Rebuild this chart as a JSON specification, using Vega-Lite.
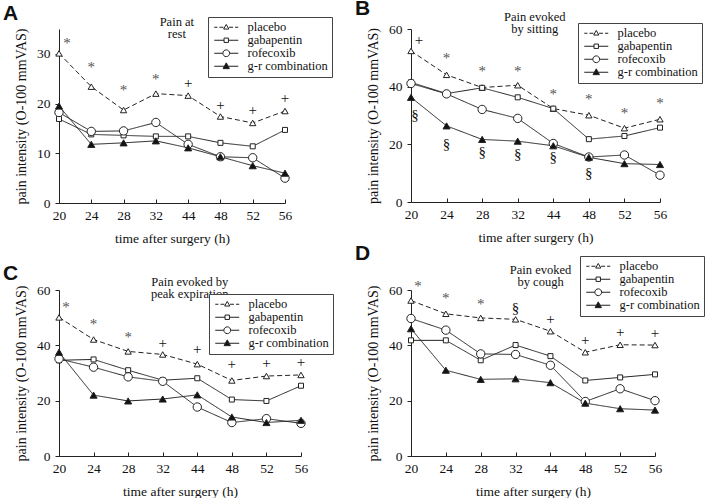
{
 "$schema": "https://vega.github.io/schema/vega-lite/v6.json",
 "background": "white",
 "padding": {"left": 3, "top": -3, "right": 3, "bottom": 0},
 "config": {
  "font": "Liberation Serif",
  "view": {"stroke": null},
  "axis": {"grid": false, "domainColor": "#222", "tickColor": "#222", "labelColor": "#111", "titleColor": "#111", "labelFont": "Liberation Serif", "titleFont": "Liberation Serif", "labelFontSize": 13.5, "titleFontSize": 13.5, "titleFontWeight": "normal"},
  "axisY": {"titleFontSize": 14},
  "legend": {"title": null, "strokeColor": "#444", "padding": 4, "labelFont": "Liberation Serif", "labelFontSize": 12.5, "labelColor": "#111", "symbolSize": 64, "symbolOffset": 8, "labelOffset": 15, "rowPadding": -1.5, "symbolStrokeWidth": 1, "symbolStrokeColor": "#222", "fillColor": "white"}
 },
 "datasets": {
  "lines": [
   {"panel":"A","series":"placebo","time":"20","value":30.1},{"panel":"A","series":"placebo","time":"24","value":23.4},{"panel":"A","series":"placebo","time":"28","value":18.7},{"panel":"A","series":"placebo","time":"32","value":22.0},{"panel":"A","series":"placebo","time":"44","value":21.6},{"panel":"A","series":"placebo","time":"48","value":17.4},{"panel":"A","series":"placebo","time":"52","value":16.1},{"panel":"A","series":"placebo","time":"56","value":18.5},
   {"panel":"A","series":"gabapentin","time":"20","value":16.9},{"panel":"A","series":"gabapentin","time":"24","value":13.8},{"panel":"A","series":"gabapentin","time":"28","value":13.6},{"panel":"A","series":"gabapentin","time":"32","value":13.4},{"panel":"A","series":"gabapentin","time":"44","value":13.4},{"panel":"A","series":"gabapentin","time":"48","value":12.1},{"panel":"A","series":"gabapentin","time":"52","value":11.4},{"panel":"A","series":"gabapentin","time":"56","value":14.7},
   {"panel":"A","series":"rofecoxib","time":"20","value":18.2},{"panel":"A","series":"rofecoxib","time":"24","value":14.4},{"panel":"A","series":"rofecoxib","time":"28","value":14.5},{"panel":"A","series":"rofecoxib","time":"32","value":16.2},{"panel":"A","series":"rofecoxib","time":"44","value":11.8},{"panel":"A","series":"rofecoxib","time":"48","value":9.3},{"panel":"A","series":"rofecoxib","time":"52","value":9.1},{"panel":"A","series":"rofecoxib","time":"56","value":5.0},
   {"panel":"A","series":"g-r combination","time":"20","value":19.5},{"panel":"A","series":"g-r combination","time":"24","value":11.8},{"panel":"A","series":"g-r combination","time":"28","value":12.1},{"panel":"A","series":"g-r combination","time":"32","value":12.5},{"panel":"A","series":"g-r combination","time":"44","value":11.1},{"panel":"A","series":"g-r combination","time":"48","value":9.3},{"panel":"A","series":"g-r combination","time":"52","value":7.5},{"panel":"A","series":"g-r combination","time":"56","value":6.0},
   {"panel":"B","series":"placebo","time":"20","value":52.4},{"panel":"B","series":"placebo","time":"24","value":44.1},{"panel":"B","series":"placebo","time":"28","value":39.7},{"panel":"B","series":"placebo","time":"32","value":40.5},{"panel":"B","series":"placebo","time":"44","value":32.4},{"panel":"B","series":"placebo","time":"48","value":30.1},{"panel":"B","series":"placebo","time":"52","value":25.6},{"panel":"B","series":"placebo","time":"56","value":28.7},
   {"panel":"B","series":"gabapentin","time":"20","value":41.5},{"panel":"B","series":"gabapentin","time":"24","value":37.6},{"panel":"B","series":"gabapentin","time":"28","value":39.6},{"panel":"B","series":"gabapentin","time":"32","value":36.3},{"panel":"B","series":"gabapentin","time":"44","value":32.4},{"panel":"B","series":"gabapentin","time":"48","value":21.8},{"panel":"B","series":"gabapentin","time":"52","value":22.9},{"panel":"B","series":"gabapentin","time":"56","value":25.8},
   {"panel":"B","series":"rofecoxib","time":"20","value":41.1},{"panel":"B","series":"rofecoxib","time":"24","value":37.5},{"panel":"B","series":"rofecoxib","time":"28","value":32.1},{"panel":"B","series":"rofecoxib","time":"32","value":29.0},{"panel":"B","series":"rofecoxib","time":"44","value":20.3},{"panel":"B","series":"rofecoxib","time":"48","value":15.6},{"panel":"B","series":"rofecoxib","time":"52","value":16.3},{"panel":"B","series":"rofecoxib","time":"56","value":9.3},
   {"panel":"B","series":"g-r combination","time":"20","value":36.3},{"panel":"B","series":"g-r combination","time":"24","value":26.4},{"panel":"B","series":"g-r combination","time":"28","value":21.7},{"panel":"B","series":"g-r combination","time":"32","value":21.1},{"panel":"B","series":"g-r combination","time":"44","value":19.5},{"panel":"B","series":"g-r combination","time":"48","value":15.5},{"panel":"B","series":"g-r combination","time":"52","value":13.3},{"panel":"B","series":"g-r combination","time":"56","value":13.0},
   {"panel":"C","series":"placebo","time":"20","value":50.1},{"panel":"C","series":"placebo","time":"24","value":42.1},{"panel":"C","series":"placebo","time":"28","value":37.8},{"panel":"C","series":"placebo","time":"32","value":36.7},{"panel":"C","series":"placebo","time":"44","value":33.2},{"panel":"C","series":"placebo","time":"48","value":27.3},{"panel":"C","series":"placebo","time":"52","value":28.9},{"panel":"C","series":"placebo","time":"56","value":29.3},
   {"panel":"C","series":"gabapentin","time":"20","value":34.6},{"panel":"C","series":"gabapentin","time":"24","value":34.9},{"panel":"C","series":"gabapentin","time":"28","value":31.0},{"panel":"C","series":"gabapentin","time":"32","value":27.4},{"panel":"C","series":"gabapentin","time":"44","value":28.1},{"panel":"C","series":"gabapentin","time":"48","value":20.4},{"panel":"C","series":"gabapentin","time":"52","value":19.9},{"panel":"C","series":"gabapentin","time":"56","value":25.4},
   {"panel":"C","series":"rofecoxib","time":"20","value":35.1},{"panel":"C","series":"rofecoxib","time":"24","value":32.1},{"panel":"C","series":"rofecoxib","time":"28","value":28.6},{"panel":"C","series":"rofecoxib","time":"32","value":27.0},{"panel":"C","series":"rofecoxib","time":"44","value":17.7},{"panel":"C","series":"rofecoxib","time":"48","value":12.1},{"panel":"C","series":"rofecoxib","time":"52","value":13.5},{"panel":"C","series":"rofecoxib","time":"56","value":11.8},
   {"panel":"C","series":"g-r combination","time":"20","value":37.5},{"panel":"C","series":"g-r combination","time":"24","value":22.0},{"panel":"C","series":"g-r combination","time":"28","value":19.9},{"panel":"C","series":"g-r combination","time":"32","value":20.6},{"panel":"C","series":"g-r combination","time":"44","value":22.1},{"panel":"C","series":"g-r combination","time":"48","value":14.1},{"panel":"C","series":"g-r combination","time":"52","value":12.1},{"panel":"C","series":"g-r combination","time":"56","value":12.9},
   {"panel":"D","series":"placebo","time":"20","value":56.2},{"panel":"D","series":"placebo","time":"24","value":51.4},{"panel":"D","series":"placebo","time":"28","value":49.9},{"panel":"D","series":"placebo","time":"32","value":49.4},{"panel":"D","series":"placebo","time":"44","value":45.1},{"panel":"D","series":"placebo","time":"48","value":37.5},{"panel":"D","series":"placebo","time":"52","value":40.2},{"panel":"D","series":"placebo","time":"56","value":40.1},
   {"panel":"D","series":"gabapentin","time":"20","value":41.8},{"panel":"D","series":"gabapentin","time":"24","value":41.8},{"panel":"D","series":"gabapentin","time":"28","value":34.6},{"panel":"D","series":"gabapentin","time":"32","value":40.1},{"panel":"D","series":"gabapentin","time":"44","value":36.1},{"panel":"D","series":"gabapentin","time":"48","value":27.3},{"panel":"D","series":"gabapentin","time":"52","value":28.4},{"panel":"D","series":"gabapentin","time":"56","value":29.5},
   {"panel":"D","series":"rofecoxib","time":"20","value":49.7},{"panel":"D","series":"rofecoxib","time":"24","value":45.5},{"panel":"D","series":"rofecoxib","time":"28","value":36.9},{"panel":"D","series":"rofecoxib","time":"32","value":36.7},{"panel":"D","series":"rofecoxib","time":"44","value":32.8},{"panel":"D","series":"rofecoxib","time":"48","value":19.7},{"panel":"D","series":"rofecoxib","time":"52","value":24.3},{"panel":"D","series":"rofecoxib","time":"56","value":20.0},
   {"panel":"D","series":"g-r combination","time":"20","value":46.0},{"panel":"D","series":"g-r combination","time":"24","value":31.0},{"panel":"D","series":"g-r combination","time":"28","value":27.7},{"panel":"D","series":"g-r combination","time":"32","value":27.9},{"panel":"D","series":"g-r combination","time":"44","value":26.5},{"panel":"D","series":"g-r combination","time":"48","value":19.1},{"panel":"D","series":"g-r combination","time":"52","value":17.1},{"panel":"D","series":"g-r combination","time":"56","value":16.6}
  ],
  "ann": [
   {"panel":"A","time":"20","sym":"*","value":32.1},{"panel":"A","time":"24","sym":"*","value":27.4},{"panel":"A","time":"28","sym":"*","value":22.7},{"panel":"A","time":"32","sym":"*","value":24.9},{"panel":"A","time":"44","sym":"+","value":24.2},{"panel":"A","time":"48","sym":"+","value":19.8},{"panel":"A","time":"52","sym":"+","value":18.7},{"panel":"A","time":"56","sym":"+","value":21.2},
   {"panel":"B","time":"20","sym":"+","value":56.2},{"panel":"B","time":"24","sym":"*","value":50.0},{"panel":"B","time":"28","sym":"*","value":45.4},{"panel":"B","time":"32","sym":"*","value":45.4},{"panel":"B","time":"44","sym":"*","value":37.3},{"panel":"B","time":"48","sym":"*","value":35.6},{"panel":"B","time":"52","sym":"*","value":30.7},{"panel":"B","time":"56","sym":"*","value":34.5},
   {"panel":"B","time":"20","sym":"§","value":30.3},{"panel":"B","time":"24","sym":"§","value":20.0},{"panel":"B","time":"28","sym":"§","value":17.4},{"panel":"B","time":"32","sym":"§","value":16.6},{"panel":"B","time":"44","sym":"§","value":15.6},{"panel":"B","time":"48","sym":"§","value":10.1},
   {"panel":"C","time":"20","sym":"*","value":53.7},{"panel":"C","time":"24","sym":"*","value":47.7},{"panel":"C","time":"28","sym":"*","value":42.9},{"panel":"C","time":"32","sym":"+","value":40.8},{"panel":"C","time":"44","sym":"+","value":38.5},{"panel":"C","time":"48","sym":"+","value":33.1},{"panel":"C","time":"52","sym":"+","value":33.7},{"panel":"C","time":"56","sym":"+","value":33.8},
   {"panel":"D","time":"20","sym":"*","value":61.6},{"panel":"D","time":"24","sym":"*","value":57.0},{"panel":"D","time":"28","sym":"*","value":54.9},{"panel":"D","time":"32","sym":"§","value":53.6},{"panel":"D","time":"44","sym":"+","value":49.4},{"panel":"D","time":"48","sym":"+","value":41.8},{"panel":"D","time":"52","sym":"+","value":44.9},{"panel":"D","time":"56","sym":"+","value":44.3}
  ]
 },
 "columns": 2,
 "spacing": {"row": 87, "column": 110},
 "bounds": "flush",
 "resolve": {"scale": {"x": "independent", "y": "independent", "shape": "independent", "fill": "independent", "stroke": "independent"}, "legend": {"shape": "independent", "fill": "independent", "stroke": "independent"}, "axis": {"x": "independent", "y": "independent"}},
 "concat": [
    {
     "width": 226, "height": 174,
     "title": {"text": "A", "anchor": "start", "frame": "group", "dx": -56, "dy": 14, "offset": 6, "font": "Liberation Sans", "fontSize": 21, "fontWeight": "bold", "color": "#111"},
     "layer": [
      {"data": {"name": "lines"}, "transform": [{"filter": "datum.panel === 'A'"}],
       "mark": {"type": "line", "strokeWidth": 1, "color": "#222"},
       "encoding": {
        "x": {"field": "time", "type": "ordinal", "scale": {"type": "point", "padding": 0}, "axis": {"title": "time after surgery (h)", "labelAngle": 0, "tickSize": -4, "labelPadding": 9, "titlePadding": 10}},
        "y": {"field": "value", "type": "quantitative", "scale": {"domain": [0, 35], "nice": false}, "axis": {"values": [0,5,10,15,20,25,30,35], "title": "pain intensity (O-100 mmVAS)", "tickSize": 4, "labelPadding": 5, "titlePadding": 8}},
        "detail": {"field": "series"},
        "strokeDash": {"condition": {"test": "datum.series === 'placebo'", "value": [5,3]}, "value": [1,0]}
       }},
      {"data": {"name": "lines"}, "transform": [{"filter": "datum.panel === 'A'"}],
       "mark": {"type": "point", "filled": true, "stroke": "#222", "strokeWidth": 1, "opacity": 1},
       "encoding": {
        "x": {"field": "time", "type": "ordinal"},
        "y": {"field": "value", "type": "quantitative"},
        "shape": {"condition": [{"test": "datum.series === 'gabapentin'", "value": "square"}, {"test": "datum.series === 'rofecoxib'", "value": "circle"}], "value": "triangle-up"},
        "fill": {"condition": {"test": "datum.series === 'g-r combination'", "value": "#111"}, "value": "white"},
        "size": {"condition": [{"test": "datum.series === 'rofecoxib'", "value": 70}, {"test": "datum.series === 'g-r combination'", "value": 50}, {"test": "datum.series === 'gabapentin'", "value": 25}], "value": 40}
       }},
      {"data": {"name": "lines"}, "transform": [{"filter": "false"}],
       "mark": {"type": "point", "filled": true, "strokeWidth": 1, "opacity": 1},
       "encoding": {
        "shape": {"field": "series", "type": "nominal", "scale": {"domain": ["placebo","gabapentin","rofecoxib","g-r combination"], "range": ["M-3,0H-2.2M-1.7,0H-0.7M0.7,0H1.7M2.2,0H3M0,-0.7L0.65,0.45L-0.65,0.45Z", "M-3,0H-0.55M0.55,0H3M-0.55,-0.55H0.55V0.55H-0.55Z", "M-3,0H-0.85M0.85,0H3M-0.85,0A0.85,0.85,0,1,1,0.85,0A0.85,0.85,0,1,1,-0.85,0Z", "M-3,0H3M0,-0.85L0.8,0.6L-0.8,0.6Z"]},
          "legend": {"orient": "none", "legendX": 149, "legendY": -12, "title": null}},
        "fill": {"field": "series", "type": "nominal", "scale": {"domain": ["placebo","gabapentin","rofecoxib","g-r combination"], "range": ["white","white","white","#111"]},
          "legend": {"orient": "none", "legendX": 149, "legendY": -12, "title": null}},
        "stroke": {"field": "series", "type": "nominal", "scale": {"domain": ["placebo","gabapentin","rofecoxib","g-r combination"], "range": ["#222","#222","#222","#222"]},
          "legend": {"orient": "none", "legendX": 149, "legendY": -12, "title": null}}
       }},
      {"data": {"name": "ann"}, "transform": [{"filter": "datum.panel === 'A' && datum.time !== '20'"}],
       "mark": {"type": "text", "baseline": "middle", "align": "center", "fontSize": 15},
       "encoding": {"x": {"field": "time", "type": "ordinal"}, "y": {"field": "value", "type": "quantitative"}, "text": {"field": "sym"},
        "color": {"condition": {"test": "datum.sym === '*'", "value": "#555"}, "value": "#111"}}},
      {"data": {"name": "ann"}, "transform": [{"filter": "datum.panel === 'A' && datum.time === '20'"}],
       "mark": {"type": "text", "baseline": "middle", "align": "center", "fontSize": 15, "dx": 8},
       "encoding": {"x": {"field": "time", "type": "ordinal"}, "y": {"field": "value", "type": "quantitative"}, "text": {"field": "sym"},
        "color": {"condition": {"test": "datum.sym === '*'", "value": "#555"}, "value": "#111"}}},
      {"data": {"values": [{}]},
       "mark": {"type": "text", "align": "center", "baseline": "top", "fontSize": 12.5, "lineHeight": 12, "color": "#111", "dx": 21, "text": ["Pain at", "rest"]},
       "encoding": {"x": {"datum": "32", "type": "ordinal"}, "y": {"datum": 37.7, "type": "quantitative"}}}
     ]
    },
    {
     "width": 249, "height": 173,
     "title": {"text": "B", "anchor": "start", "frame": "group", "dx": -56, "dy": 14, "offset": 6, "font": "Liberation Sans", "fontSize": 21, "fontWeight": "bold", "color": "#111"},
     "layer": [
      {"data": {"name": "lines"}, "transform": [{"filter": "datum.panel === 'B'"}],
       "mark": {"type": "line", "strokeWidth": 1, "color": "#222"},
       "encoding": {
        "x": {"field": "time", "type": "ordinal", "scale": {"type": "point", "padding": 0}, "axis": {"title": "time after surgery (h)", "labelAngle": 0, "tickSize": -4, "labelPadding": 9, "titlePadding": 10}},
        "y": {"field": "value", "type": "quantitative", "scale": {"domain": [0, 60], "nice": false}, "axis": {"values": [0,10,20,30,40,50,60], "title": "pain intensity (O-100 mmVAS)", "tickSize": 4, "labelPadding": 5, "titlePadding": 8}},
        "detail": {"field": "series"},
        "strokeDash": {"condition": {"test": "datum.series === 'placebo'", "value": [5,3]}, "value": [1,0]}
       }},
      {"data": {"name": "lines"}, "transform": [{"filter": "datum.panel === 'B'"}],
       "mark": {"type": "point", "filled": true, "stroke": "#222", "strokeWidth": 1, "opacity": 1},
       "encoding": {
        "x": {"field": "time", "type": "ordinal"},
        "y": {"field": "value", "type": "quantitative"},
        "shape": {"condition": [{"test": "datum.series === 'gabapentin'", "value": "square"}, {"test": "datum.series === 'rofecoxib'", "value": "circle"}], "value": "triangle-up"},
        "fill": {"condition": {"test": "datum.series === 'g-r combination'", "value": "#111"}, "value": "white"},
        "size": {"condition": [{"test": "datum.series === 'rofecoxib'", "value": 70}, {"test": "datum.series === 'g-r combination'", "value": 50}, {"test": "datum.series === 'gabapentin'", "value": 25}], "value": 40}
       }},
      {"data": {"name": "lines"}, "transform": [{"filter": "false"}],
       "mark": {"type": "point", "filled": true, "strokeWidth": 1, "opacity": 1},
       "encoding": {
        "shape": {"field": "series", "type": "nominal", "scale": {"domain": ["placebo","gabapentin","rofecoxib","g-r combination"], "range": ["M-3,0H-2.2M-1.7,0H-0.7M0.7,0H1.7M2.2,0H3M0,-0.7L0.65,0.45L-0.65,0.45Z", "M-3,0H-0.55M0.55,0H3M-0.55,-0.55H0.55V0.55H-0.55Z", "M-3,0H-0.85M0.85,0H3M-0.85,0A0.85,0.85,0,1,1,0.85,0A0.85,0.85,0,1,1,-0.85,0Z", "M-3,0H3M0,-0.85L0.8,0.6L-0.8,0.6Z"]},
          "legend": {"orient": "none", "legendX": 167, "legendY": -6, "title": null}},
        "fill": {"field": "series", "type": "nominal", "scale": {"domain": ["placebo","gabapentin","rofecoxib","g-r combination"], "range": ["white","white","white","#111"]},
          "legend": {"orient": "none", "legendX": 167, "legendY": -6, "title": null}},
        "stroke": {"field": "series", "type": "nominal", "scale": {"domain": ["placebo","gabapentin","rofecoxib","g-r combination"], "range": ["#222","#222","#222","#222"]},
          "legend": {"orient": "none", "legendX": 167, "legendY": -6, "title": null}}
       }},
      {"data": {"name": "ann"}, "transform": [{"filter": "datum.panel === 'B' && datum.time !== '20'"}],
       "mark": {"type": "text", "baseline": "middle", "align": "center", "fontSize": 15},
       "encoding": {"x": {"field": "time", "type": "ordinal"}, "y": {"field": "value", "type": "quantitative"}, "text": {"field": "sym"},
        "color": {"condition": {"test": "datum.sym === '*'", "value": "#555"}, "value": "#111"}}},
      {"data": {"name": "ann"}, "transform": [{"filter": "datum.panel === 'B' && datum.time === '20' && datum.sym !== '§'"}],
       "mark": {"type": "text", "baseline": "middle", "align": "center", "fontSize": 15, "dx": 8},
       "encoding": {"x": {"field": "time", "type": "ordinal"}, "y": {"field": "value", "type": "quantitative"}, "text": {"field": "sym"},
        "color": {"condition": {"test": "datum.sym === '*'", "value": "#555"}, "value": "#111"}}},
      {"data": {"name": "ann"}, "transform": [{"filter": "datum.panel === 'B' && datum.time === '20' && datum.sym === '§'"}],
       "mark": {"type": "text", "baseline": "middle", "align": "center", "fontSize": 15, "dx": 4, "color": "#111"},
       "encoding": {"x": {"field": "time", "type": "ordinal"}, "y": {"field": "value", "type": "quantitative"}, "text": {"field": "sym"}}},
      {"data": {"values": [{}]},
       "mark": {"type": "text", "align": "center", "baseline": "top", "fontSize": 12.5, "lineHeight": 12, "color": "#111", "dx": 17, "text": ["Pain evoked", "by sitting"]},
       "encoding": {"x": {"datum": "32", "type": "ordinal"}, "y": {"datum": 66.3, "type": "quantitative"}}}
     ]
    },
    {
     "width": 242, "height": 166,
     "title": {"text": "C", "anchor": "start", "frame": "group", "dx": -56, "dy": 14, "offset": 6, "font": "Liberation Sans", "fontSize": 21, "fontWeight": "bold", "color": "#111"},
     "layer": [
      {"data": {"name": "lines"}, "transform": [{"filter": "datum.panel === 'C'"}],
       "mark": {"type": "line", "strokeWidth": 1, "color": "#222"},
       "encoding": {
        "x": {"field": "time", "type": "ordinal", "scale": {"type": "point", "padding": 0}, "axis": {"title": "time after surgery (h)", "labelAngle": 0, "tickSize": -4, "labelPadding": 9, "titlePadding": 10}},
        "y": {"field": "value", "type": "quantitative", "scale": {"domain": [0, 60], "nice": false}, "axis": {"values": [0,10,20,30,40,50,60], "title": "pain intensity (O-100 mmVAS)", "tickSize": 4, "labelPadding": 5, "titlePadding": 8}},
        "detail": {"field": "series"},
        "strokeDash": {"condition": {"test": "datum.series === 'placebo'", "value": [5,3]}, "value": [1,0]}
       }},
      {"data": {"name": "lines"}, "transform": [{"filter": "datum.panel === 'C'"}],
       "mark": {"type": "point", "filled": true, "stroke": "#222", "strokeWidth": 1, "opacity": 1},
       "encoding": {
        "x": {"field": "time", "type": "ordinal"},
        "y": {"field": "value", "type": "quantitative"},
        "shape": {"condition": [{"test": "datum.series === 'gabapentin'", "value": "square"}, {"test": "datum.series === 'rofecoxib'", "value": "circle"}], "value": "triangle-up"},
        "fill": {"condition": {"test": "datum.series === 'g-r combination'", "value": "#111"}, "value": "white"},
        "size": {"condition": [{"test": "datum.series === 'rofecoxib'", "value": 70}, {"test": "datum.series === 'g-r combination'", "value": 50}, {"test": "datum.series === 'gabapentin'", "value": 25}], "value": 40}
       }},
      {"data": {"name": "lines"}, "transform": [{"filter": "false"}],
       "mark": {"type": "point", "filled": true, "strokeWidth": 1, "opacity": 1},
       "encoding": {
        "shape": {"field": "series", "type": "nominal", "scale": {"domain": ["placebo","gabapentin","rofecoxib","g-r combination"], "range": ["M-3,0H-2.2M-1.7,0H-0.7M0.7,0H1.7M2.2,0H3M0,-0.7L0.65,0.45L-0.65,0.45Z", "M-3,0H-0.55M0.55,0H3M-0.55,-0.55H0.55V0.55H-0.55Z", "M-3,0H-0.85M0.85,0H3M-0.85,0A0.85,0.85,0,1,1,0.85,0A0.85,0.85,0,1,1,-0.85,0Z", "M-3,0H3M0,-0.85L0.8,0.6L-0.8,0.6Z"]},
          "legend": {"orient": "none", "legendX": 150, "legendY": 4, "title": null}},
        "fill": {"field": "series", "type": "nominal", "scale": {"domain": ["placebo","gabapentin","rofecoxib","g-r combination"], "range": ["white","white","white","#111"]},
          "legend": {"orient": "none", "legendX": 150, "legendY": 4, "title": null}},
        "stroke": {"field": "series", "type": "nominal", "scale": {"domain": ["placebo","gabapentin","rofecoxib","g-r combination"], "range": ["#222","#222","#222","#222"]},
          "legend": {"orient": "none", "legendX": 150, "legendY": 4, "title": null}}
       }},
      {"data": {"name": "ann"}, "transform": [{"filter": "datum.panel === 'C' && datum.time !== '20'"}],
       "mark": {"type": "text", "baseline": "middle", "align": "center", "fontSize": 15},
       "encoding": {"x": {"field": "time", "type": "ordinal"}, "y": {"field": "value", "type": "quantitative"}, "text": {"field": "sym"},
        "color": {"condition": {"test": "datum.sym === '*'", "value": "#555"}, "value": "#111"}}},
      {"data": {"name": "ann"}, "transform": [{"filter": "datum.panel === 'C' && datum.time === '20'"}],
       "mark": {"type": "text", "baseline": "middle", "align": "center", "fontSize": 15, "dx": 7},
       "encoding": {"x": {"field": "time", "type": "ordinal"}, "y": {"field": "value", "type": "quantitative"}, "text": {"field": "sym"},
        "color": {"condition": {"test": "datum.sym === '*'", "value": "#555"}, "value": "#111"}}},
      {"data": {"values": [{}]},
       "mark": {"type": "text", "align": "center", "baseline": "top", "fontSize": 12.5, "lineHeight": 12, "color": "#111", "dx": 27, "text": ["Pain evoked by", "peak expiration"]},
       "encoding": {"x": {"datum": "32", "type": "ordinal"}, "y": {"datum": 65, "type": "quantitative"}}}
     ]
    },
    {
     "width": 244, "height": 166,
     "title": {"text": "D", "anchor": "start", "frame": "group", "dx": -56, "dy": 14, "offset": 6, "font": "Liberation Sans", "fontSize": 21, "fontWeight": "bold", "color": "#111"},
     "layer": [
      {"data": {"name": "lines"}, "transform": [{"filter": "datum.panel === 'D'"}],
       "mark": {"type": "line", "strokeWidth": 1, "color": "#222"},
       "encoding": {
        "x": {"field": "time", "type": "ordinal", "scale": {"type": "point", "padding": 0}, "axis": {"title": "time after surgery (h)", "labelAngle": 0, "tickSize": -4, "labelPadding": 9, "titlePadding": 10}},
        "y": {"field": "value", "type": "quantitative", "scale": {"domain": [0, 60], "nice": false}, "axis": {"values": [0,10,20,30,40,50,60], "title": "pain intensity (O-100 mmVAS)", "tickSize": 4, "labelPadding": 5, "titlePadding": 8}},
        "detail": {"field": "series"},
        "strokeDash": {"condition": {"test": "datum.series === 'placebo'", "value": [5,3]}, "value": [1,0]}
       }},
      {"data": {"name": "lines"}, "transform": [{"filter": "datum.panel === 'D'"}],
       "mark": {"type": "point", "filled": true, "stroke": "#222", "strokeWidth": 1, "opacity": 1},
       "encoding": {
        "x": {"field": "time", "type": "ordinal"},
        "y": {"field": "value", "type": "quantitative"},
        "shape": {"condition": [{"test": "datum.series === 'gabapentin'", "value": "square"}, {"test": "datum.series === 'rofecoxib'", "value": "circle"}], "value": "triangle-up"},
        "fill": {"condition": {"test": "datum.series === 'g-r combination'", "value": "#111"}, "value": "white"},
        "size": {"condition": [{"test": "datum.series === 'rofecoxib'", "value": 70}, {"test": "datum.series === 'g-r combination'", "value": 50}, {"test": "datum.series === 'gabapentin'", "value": 25}], "value": 40}
       }},
      {"data": {"name": "lines"}, "transform": [{"filter": "false"}],
       "mark": {"type": "point", "filled": true, "strokeWidth": 1, "opacity": 1},
       "encoding": {
        "shape": {"field": "series", "type": "nominal", "scale": {"domain": ["placebo","gabapentin","rofecoxib","g-r combination"], "range": ["M-3,0H-2.2M-1.7,0H-0.7M0.7,0H1.7M2.2,0H3M0,-0.7L0.65,0.45L-0.65,0.45Z", "M-3,0H-0.55M0.55,0H3M-0.55,-0.55H0.55V0.55H-0.55Z", "M-3,0H-0.85M0.85,0H3M-0.85,0A0.85,0.85,0,1,1,0.85,0A0.85,0.85,0,1,1,-0.85,0Z", "M-3,0H3M0,-0.85L0.8,0.6L-0.8,0.6Z"]},
          "legend": {"orient": "none", "legendX": 169, "legendY": -34, "title": null}},
        "fill": {"field": "series", "type": "nominal", "scale": {"domain": ["placebo","gabapentin","rofecoxib","g-r combination"], "range": ["white","white","white","#111"]},
          "legend": {"orient": "none", "legendX": 169, "legendY": -34, "title": null}},
        "stroke": {"field": "series", "type": "nominal", "scale": {"domain": ["placebo","gabapentin","rofecoxib","g-r combination"], "range": ["#222","#222","#222","#222"]},
          "legend": {"orient": "none", "legendX": 169, "legendY": -34, "title": null}}
       }},
      {"data": {"name": "ann"}, "transform": [{"filter": "datum.panel === 'D' && datum.time !== '20'"}],
       "mark": {"type": "text", "baseline": "middle", "align": "center", "fontSize": 15},
       "encoding": {"x": {"field": "time", "type": "ordinal"}, "y": {"field": "value", "type": "quantitative"}, "text": {"field": "sym"},
        "color": {"condition": {"test": "datum.sym === '*'", "value": "#555"}, "value": "#111"}}},
      {"data": {"name": "ann"}, "transform": [{"filter": "datum.panel === 'D' && datum.time === '20'"}],
       "mark": {"type": "text", "baseline": "middle", "align": "center", "fontSize": 15, "dx": 7},
       "encoding": {"x": {"field": "time", "type": "ordinal"}, "y": {"field": "value", "type": "quantitative"}, "text": {"field": "sym"},
        "color": {"condition": {"test": "datum.sym === '*'", "value": "#555"}, "value": "#111"}}},
      {"data": {"values": [{}]},
       "mark": {"type": "text", "align": "center", "baseline": "top", "fontSize": 12.5, "lineHeight": 12, "color": "#111", "dx": 25, "text": ["Pain evoked", "by cough"]},
       "encoding": {"x": {"datum": "32", "type": "ordinal"}, "y": {"datum": 69.5, "type": "quantitative"}}}
     ]
    }
 ]
}
